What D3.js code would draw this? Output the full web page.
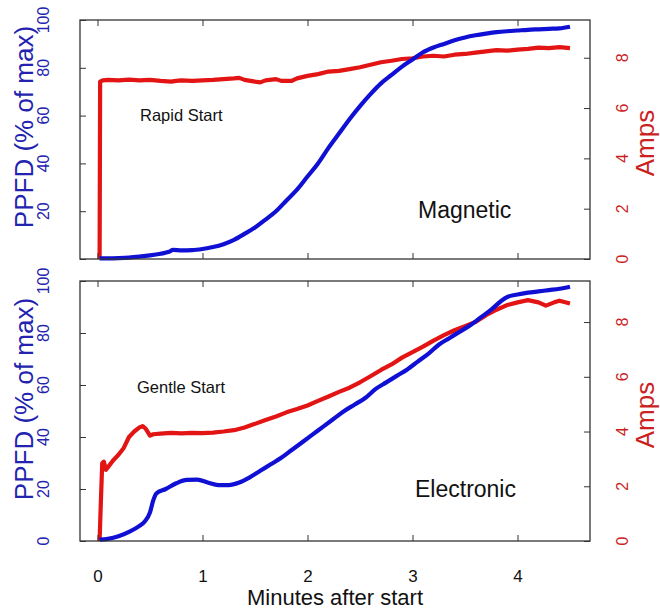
<!DOCTYPE html>
<html><head><meta charset="utf-8">
<script src="https://cdn.jsdelivr.net/npm/d3@7"></script>
<style>body{margin:0;background:#fff}svg{display:block;font-family:"Liberation Sans",Arial,sans-serif}</style>
</head><body>
<svg id="c" width="660" height="609"></svg>
<script>
// ---------- data ----------
const xTicks = [0,1,2,3,4];
const ppfdTicks = [0,20,40,60,80,100];
const ppfdLabelsTop = [20,40,60,80,100];
const ampTicks = [0,2,4,6,8];

// Magnetic (Rapid Start)
const magPpfdT = [0.02,0.1,0.2,0.3,0.4,0.5,0.6,0.68,0.72,0.8,0.9,1.0,1.1,1.2,1.3,1.4,1.5,1.6,1.7,1.8,1.9,2.0,2.1,2.2,2.3,2.4,2.5,2.6,2.7,2.8,2.9,3.0,3.1,3.2,3.3,3.4,3.5,3.6,3.7,3.8,3.9,4.0,4.1,4.2,4.3,4.4,4.5];
const magPpfd  = [0.3,0.3,0.4,0.6,1.0,1.5,2.2,3.0,3.8,3.6,3.7,4.2,5.0,6.2,8.0,10.5,13.2,16.5,20.0,24.5,29,34.5,40,46.5,52.5,58.5,64,69,73.5,77,80.5,83.5,86.5,88.5,90,91.5,92.7,93.6,94.3,94.9,95.3,95.6,95.9,96.1,96.3,96.5,97.2];
const magAmpT = [0.02,0.025,0.05,0.1,0.2,0.3,0.4,0.5,0.6,0.7,0.75,0.8,0.9,1.0,1.1,1.2,1.3,1.35,1.4,1.5,1.55,1.6,1.7,1.75,1.85,1.9,2.0,2.1,2.2,2.3,2.4,2.5,2.6,2.7,2.8,2.9,3.0,3.1,3.2,3.3,3.4,3.5,3.6,3.7,3.8,3.9,4.0,4.1,4.2,4.3,4.4,4.5];
const magAmp  = [0,7.05,7.1,7.12,7.1,7.13,7.1,7.12,7.08,7.05,7.08,7.1,7.08,7.1,7.12,7.15,7.18,7.2,7.12,7.05,7.02,7.1,7.15,7.08,7.08,7.18,7.28,7.35,7.45,7.48,7.55,7.62,7.72,7.82,7.88,7.95,7.98,8.05,8.08,8.05,8.12,8.15,8.2,8.25,8.3,8.28,8.32,8.35,8.4,8.38,8.42,8.38];

// Electronic (Gentle Start)
const elePpfdT = [0.02,0.1,0.2,0.3,0.4,0.45,0.5,0.53,0.56,0.65,0.75,0.85,0.95,1.05,1.15,1.25,1.35,1.45,1.55,1.65,1.75,1.85,1.95,2.05,2.15,2.25,2.35,2.45,2.55,2.65,2.75,2.85,2.95,3.05,3.15,3.25,3.35,3.45,3.55,3.65,3.75,3.85,3.9,4.0,4.1,4.2,4.3,4.4,4.5];
const elePpfd  = [0.5,0.8,1.8,3.5,5.8,7.5,11,15.5,18.3,20.0,22.2,23.5,23.6,22.5,21.5,21.5,22.5,24.5,27,29.5,32,35,38,41,44,47,50,52.5,55,58.5,61,63.5,66,69,72,75.5,78,80.5,83,86,89,92.5,93.8,94.8,95.5,96,96.5,97,97.8];
const eleAmpT = [0.02,0.03,0.045,0.06,0.08,0.1,0.15,0.2,0.25,0.3,0.35,0.4,0.43,0.46,0.5,0.53,0.6,0.7,0.8,0.9,1.0,1.1,1.2,1.3,1.4,1.5,1.6,1.7,1.8,1.9,2.0,2.1,2.2,2.3,2.4,2.5,2.6,2.7,2.8,2.9,3.0,3.1,3.2,3.3,3.4,3.5,3.6,3.7,3.8,3.9,4.0,4.1,4.2,4.27,4.35,4.4,4.5];
const eleAmp  = [0,1.2,2.85,2.9,2.6,2.7,2.95,3.15,3.4,3.8,4.0,4.15,4.2,4.1,3.85,3.9,3.92,3.95,3.93,3.95,3.94,3.96,4.0,4.05,4.15,4.28,4.42,4.55,4.7,4.82,4.95,5.12,5.28,5.45,5.6,5.8,6.02,6.25,6.45,6.7,6.9,7.1,7.32,7.52,7.7,7.85,8.0,8.25,8.45,8.62,8.72,8.8,8.72,8.6,8.72,8.78,8.68];

const panels = [
  {name:"Magnetic", note:"Rapid Start", pT:magPpfdT, p:magPpfd, aT:magAmpT, a:magAmp, pLabels:ppfdLabelsTop},
  {name:"Electronic", note:"Gentle Start", pT:elePpfdT, p:elePpfd, aT:eleAmpT, a:eleAmp, pLabels:ppfdTicks}
];

// ---------- layout ----------
const svg = d3.select("#c");
const L = 80, R = 590;
const boxes = [{top:20, bottom:259, noteX:140, noteY:121, nameX:418, nameY:218, ppfdY:127, ampY:143},
               {top:281, bottom:541, noteX:137, noteY:393, nameX:415, nameY:497, ppfdY:399, ampY:415}];
const x = d3.scaleLinear().domain([0,4]).range([97.5,517.5]);
const BLUE = "#1010d4", RED = "#e21414", BTXT = "#2323b0", RTXT = "#cc1f1f", AX = "#333";

panels.forEach((pn, i) => {
  const b = boxes[i];
  const yL = d3.scaleLinear().domain([0,100]).range([b.bottom, b.top]);
  const yR = d3.scaleLinear().domain([0,9.5]).range([b.bottom, b.top]);
  const g = svg.append("g");

  // lines
  const pData = pn.pT.map((t,k)=>[t,pn.p[k]]);
  const aData = pn.aT.map((t,k)=>[t,pn.a[k]]);
  g.append("path").datum(aData)
    .attr("d", d3.line().x(d=>x(d[0])).y(d=>yR(d[1])))
    .attr("fill","none").attr("stroke",RED).attr("stroke-width",4.2).attr("stroke-linejoin","round");
  g.append("path").datum(pData)
    .attr("d", d3.line().curve(d3.curveMonotoneX).x(d=>x(d[0])).y(d=>yL(d[1])))
    .attr("fill","none").attr("stroke",BLUE).attr("stroke-width",4.2).attr("stroke-linejoin","round");

  // axes (inward ticks)
  const style = s => { s.select(".domain").remove(); s.selectAll("line").attr("stroke",AX).attr("stroke-width",1); s.selectAll("text").remove(); };
  g.append("g").attr("transform",`translate(${L},0)`).call(d3.axisLeft(yL).tickValues(ppfdTicks).tickSize(-6)).call(style);
  g.append("g").attr("transform",`translate(${R},0)`).call(d3.axisRight(yR).tickValues(ampTicks).tickSize(-6)).call(style);
  g.append("g").attr("transform",`translate(0,${b.top})`).call(d3.axisTop(x).tickValues(xTicks).tickSize(-6)).call(style);
  const xb = g.append("g").attr("transform",`translate(0,${b.bottom})`)
    .call(d3.axisBottom(x).tickValues(xTicks).tickFormat(d3.format("d")).tickSize(-6));
  xb.select(".domain").remove(); xb.selectAll("line").attr("stroke",AX);
  if (i === 1) {
    xb.selectAll("text").attr("y",41).attr("dy",0).attr("font-size",17).attr("fill","#111")
      .attr("font-family","Liberation Sans, Arial, sans-serif");
  } else xb.selectAll("text").remove();

  // box
  g.append("rect").attr("x",L).attr("y",b.top).attr("width",R-L).attr("height",b.bottom-b.top)
    .attr("fill","none").attr("stroke",AX).attr("stroke-width",1.3);

  // rotated tick labels
  g.selectAll(".lt").data(pn.pLabels).join("text")
    .attr("transform",d=>`translate(49,${yL(d)}) rotate(-90)`)
    .attr("text-anchor","middle").attr("font-size",16).attr("fill",BTXT).text(d=>d);
  g.selectAll(".rt").data(ampTicks).join("text")
    .attr("transform",d=>`translate(628,${yR(d)}) rotate(-90)`)
    .attr("text-anchor","middle").attr("font-size",16).attr("fill",RTXT).text(d=>d);

  // axis titles
  g.append("text").attr("transform",`translate(33,${b.ppfdY}) rotate(-90)`)
    .attr("text-anchor","middle").attr("font-size",26).attr("fill",BTXT).text("PPFD (% of max)");
  g.append("text").attr("transform",`translate(654,${b.ampY}) rotate(-90)`)
    .attr("text-anchor","middle").attr("font-size",26).attr("fill",RTXT).text("Amps");

  // annotations
  g.append("text").attr("x",b.noteX).attr("y",b.noteY).attr("font-size",16.5).attr("fill","#111").text(pn.note);
  g.append("text").attr("x",b.nameX).attr("y",b.nameY).attr("font-size",23).attr("fill","#111").text(pn.name);
});

svg.append("text").attr("x",335).attr("y",605).attr("text-anchor","middle")
  .attr("font-size",22).attr("fill","#111").text("Minutes after start");
</script>
</body></html>
